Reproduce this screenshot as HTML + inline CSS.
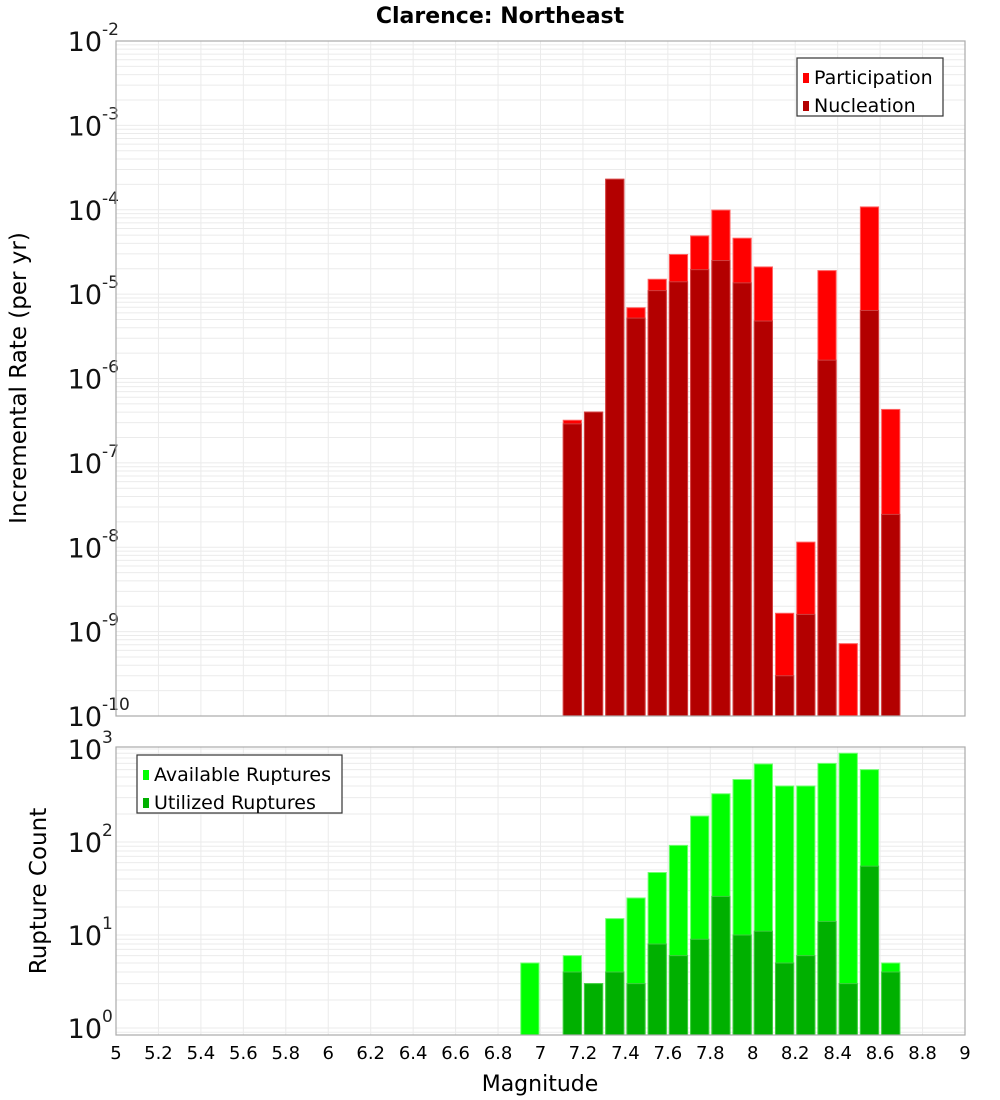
<!DOCTYPE html>
<html><head><meta charset="utf-8"><style>
html,body{margin:0;padding:0;background:#fff;}
svg{display:block;font-family:"DejaVu Sans","Liberation Sans",sans-serif;}
</style></head><body>
<svg id="chart" width="1000" height="1100" viewBox="0 0 1000 1100" xmlns="http://www.w3.org/2000/svg">
<text x="500" y="23" text-anchor="middle" font-size="22" font-weight="bold">Clarence: Northeast</text>
<g id="top"></g>
<g id="bot"></g>
<text transform="translate(26,378) rotate(-90)" text-anchor="middle" font-size="23">Incremental Rate (per yr)</text>
<text transform="translate(46,891) rotate(-90)" text-anchor="middle" font-size="23">Rupture Count</text>
<text x="540" y="1091" text-anchor="middle" font-size="22">Magnitude</text>
</svg>
<script>
// data
const mags = [6.9,7.0,7.1,7.2,7.3,7.4,7.5,7.6,7.7,7.8,7.9,8.0,8.1,8.2,8.3,8.4,8.5,8.6];
const participation = [0,0,3.2e-7,4.0e-7,2.3e-4,6.9e-6,1.5e-5,2.95e-5,4.9e-5,9.9e-5,4.6e-5,2.1e-5,1.65e-9,1.15e-8,1.9e-5,7.2e-10,1.08e-4,4.3e-7];
const nucleation = [0,0,2.9e-7,4.0e-7,2.3e-4,5.2e-6,1.1e-5,1.4e-5,1.95e-5,2.5e-5,1.36e-5,4.8e-6,3.0e-10,1.6e-9,1.65e-6,0,6.4e-6,2.45e-8];
const available = [5,0,6,3,15,25,47,92,190,330,470,690,400,400,700,900,600,5];
const utilized = [0,0,4,3,4,3,8,6,9,26,10,11,5,6,14,3,55,4];
const xTicks = [5,5.2,5.4,5.6,5.8,6,6.2,6.4,6.6,6.8,7,7.2,7.4,7.6,7.8,8,8.2,8.4,8.6,8.8,9];
const topDecades = [-2,-3,-4,-5,-6,-7,-8,-9,-10];
const botDecades = [0,1,2,3];

const NS="http://www.w3.org/2000/svg";
const X0=116,X1=965;
const xs=m=>X0+(m-5)/4*(X1-X0);
function mk(parent,tag,attrs){const e=document.createElementNS(NS,tag);for(const k in attrs)e.setAttribute(k,attrs[k]);parent.appendChild(e);return e;}

function panel(g,top,bottom,yOf,dmin,dmax,decs,name){
  mk(g,'rect',{x:X0,y:top,width:X1-X0,height:bottom-top,fill:'#fff'});
  // minor grid
  for(let d=dmin-1;d<=dmax;d++){for(let k=1;k<=9;k++){const y=yOf(Math.pow(10,d)*k);if(y>=top&&y<=bottom){const l=mk(g,'line',{x1:X0,x2:X1,y1:y,y2:y,stroke:'#ebebeb','stroke-width':1});}}}
  xTicks.forEach(t=>{const x=xs(t);const l=mk(g,'line',{x1:x,x2:x,y1:top,y2:bottom,stroke:'#ebebeb','stroke-width':1});});
  decs.forEach(d=>{const y=yOf(Math.pow(10,d));const t=mk(g,'text',{x:102,y:y+10,'text-anchor':'end','font-size':27,fill:'#111'});t.textContent='10';
    const s=mk(g,'text',{x:102,y:y-6,'text-anchor':'start','font-size':17,fill:'#222'});s.textContent=String(d);});
}
function bars(g,vals,yOf,bottom,fill,stroke,name){
  vals.forEach((v,i)=>{if(!(v>0))return;const xl=xs(mags[i])+1.5,xr=xs(mags[i]+0.1)-1.5;const y=Math.max(yOf(v),0);
    const r=mk(g,'rect',{x:xl,y:y,width:xr-xl,height:bottom-y,fill:fill,stroke:stroke,'stroke-width':1});
    });
}
function legend(g,x,y,w,items,name){
  const b=mk(g,'rect',{x:x,y:y,width:w,height:58,fill:'#fff',stroke:'#333','stroke-width':1.2});
  
  items.forEach((it,i)=>{const yy=y+14+i*28;
    const s=mk(g,'rect',{x:x+6,y:yy+1,width:6,height:10,fill:it[1]});
    const t=mk(g,'text',{x:x+17,y:yy+12,'font-size':19});t.textContent=it[0];});
}

// top panel
const TT=41,TB=716;
const yTop=v=>TT+(-2-Math.log10(v))*(TB-TT)/8;
const gt=document.getElementById('top');
panel(gt,TT,TB,yTop,-10,-2,topDecades,'top');
bars(gt,participation,yTop,TB,'#ff0000','#ff6060','participation');
bars(gt,nucleation,yTop,TB,'#b30000','#d04040','nucleation');
mk(gt,'rect',{x:X0,y:TT,width:X1-X0,height:TB-TT,fill:'none',stroke:'#aaa','stroke-width':1.2});
legend(gt,797,58,146,[['Participation','#ff0000'],['Nucleation','#b30000']],'top-legend');

// bottom panel
const BT=747,BB=1035;
const yBot=v=>1028-Math.log10(v)*93;
const gb=document.getElementById('bot');
panel(gb,BT,BB,yBot,0,3,botDecades,'bottom');
bars(gb,available,yBot,BB,'#00ff00','#70ff70','available');
bars(gb,utilized,yBot,BB,'#00b000','#40cc40','utilized');
mk(gb,'rect',{x:X0,y:BT,width:X1-X0,height:BB-BT,fill:'none',stroke:'#aaa','stroke-width':1.2});
legend(gb,137,755,205,[['Available Ruptures','#00ff00'],['Utilized Ruptures','#00b000']],'bottom-legend');

xTicks.forEach(t=>{const e=mk(gb,'text',{x:xs(t),y:1059,'text-anchor':'middle','font-size':18});e.textContent=String(t);
  });
</script>
</body></html>
